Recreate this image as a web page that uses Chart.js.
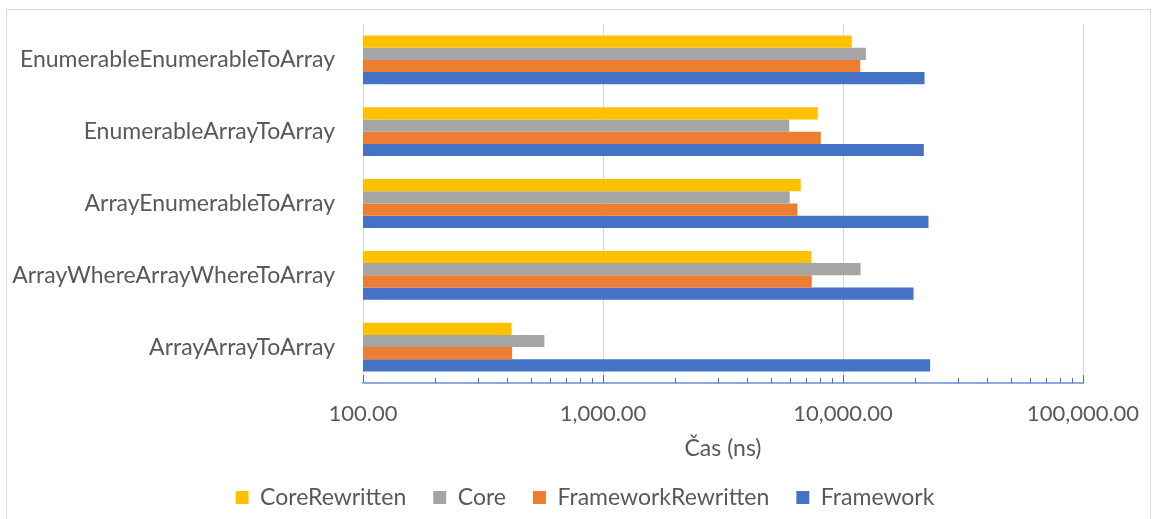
<!DOCTYPE html>
<html>
<head>
<meta charset="utf-8">
<script src="https://cdn.jsdelivr.net/npm/chart.js@4.4.1/dist/chart.umd.min.js"></script>
<style>
  body { margin: 0; background: #fff; }
</style>
</head>
<body>
<canvas id="chart" width="1154" height="519"></canvas>
<script>
const categories = [
  "EnumerableEnumerableToArray",
  "EnumerableArrayToArray",
  "ArrayEnumerableToArray",
  "ArrayWhereArrayWhereToArray",
  "ArrayArrayToArray"
];
const coreRewritten = [10880, 7850, 6670, 7390, 416];
const core = [12450, 5970, 6000, 11830, 570];
const frameworkRewritten = [11800, 8080, 6460, 7410, 418];
const framework = [21860, 21710, 22710, 19670, 23070];

const majorTicks = [100, 1000, 10000, 100000];
const minorSteps = [2, 3, 4, 5, 6, 7, 8, 9];
const axisTitle = "Čas (ns)";

const FONT = "Lato, 'Noto Sans', sans-serif";
const TEXT = "#595959";

// all tick values: majors plus 2..9 in each decade
const allTicks = [];
majorTicks.forEach((m, i) => {
  allTicks.push(m);
  if (i < majorTicks.length - 1) minorSteps.forEach(s => allTicks.push(m * s));
});

const frameBorder = {
  id: "frameBorder",
  beforeDraw(chart) {
    const { ctx } = chart;
    ctx.save();
    ctx.strokeStyle = "#d9d9d9";
    ctx.lineWidth = 1;
    ctx.strokeRect(6.5, 9.5, 1144, 600);
    ctx.restore();
  }
};

// legend sits a bit right of the canvas centre in the original
const legendShift = {
  id: "legendShift",
  afterLayout(chart) {
    chart.legend.left += 8;
    chart.legend.right += 8;
  }
};

// tick marks pointing up from the axis line, like the original
const tickMarks = {
  id: "tickMarks",
  afterDraw(chart) {
    const { ctx, chartArea } = chart;
    const x = chart.scales.x;
    ctx.save();
    ctx.strokeStyle = "#4472c4";
    ctx.lineWidth = 1;
    allTicks.forEach(v => {
      const px = Math.round(x.getPixelForValue(v)) + 0.5;
      const len = majorTicks.includes(v) ? 8 : 5;
      ctx.beginPath();
      ctx.moveTo(px, chartArea.bottom);
      ctx.lineTo(px, chartArea.bottom - len);
      ctx.stroke();
    });
    ctx.restore();
  }
};

new Chart(document.getElementById("chart"), {
  type: "bar",
  data: {
    labels: categories,
    datasets: [
      { label: "CoreRewritten", data: coreRewritten, backgroundColor: "#ffc000" },
      { label: "Core", data: core, backgroundColor: "#a5a5a5" },
      { label: "FrameworkRewritten", data: frameworkRewritten, backgroundColor: "#ed7d31" },
      { label: "Framework", data: framework, backgroundColor: "#4472c4" }
    ]
  },
  options: {
    indexAxis: "y",
    responsive: false,
    animation: false,
    events: [],
    layout: { padding: { top: 24, right: 0, left: 0, bottom: 0 } },
    datasets: {
      bar: { barPercentage: 1, categoryPercentage: 0.68, borderWidth: 0 }
    },
    scales: {
      x: {
        type: "logarithmic",
        min: 100,
        max: 100000,
        afterBuildTicks(scale) {
          scale.ticks = allTicks.map(v => ({ value: v, major: majorTicks.includes(v) }));
        },
        afterFit(scale) {
          scale.height = 76;
          scale.paddingRight = 71;
        },
        ticks: {
          autoSkip: false,
          maxRotation: 0,
          padding: 18,
          color: TEXT,
          font: { family: FONT, size: 22 },
          callback(value) {
            if (!majorTicks.includes(value)) return "";
            return value.toLocaleString("en-US", { minimumFractionDigits: 2, maximumFractionDigits: 2 });
          }
        },
        grid: {
          drawTicks: false,
          color: c => (c.tick && majorTicks.includes(c.tick.value) ? "#d9d9d9" : "rgba(0,0,0,0)")
        },
        border: { color: "#8faadc", width: 2 },
        title: {
          display: true,
          text: axisTitle,
          color: TEXT,
          font: { family: FONT, size: 23 },
          padding: { top: 0, bottom: -3 }
        }
      },
      y: {
        afterFit(scale) {
          scale.width = 363;
          scale.paddingTop = 0;
          scale.paddingBottom = 0;
        },
        ticks: {
          padding: 28,
          color: TEXT,
          font: { family: FONT, size: 23 }
        },
        grid: { display: false, drawTicks: false },
        border: { color: "#d9d9d9", width: 1 }
      }
    },
    plugins: {
      legend: {
        position: "bottom",
        labels: {
          boxWidth: 13,
          boxHeight: 13,
          padding: 27,
          color: TEXT,
          font: { family: FONT, size: 23 }
        }
      },
      tooltip: { enabled: false }
    }
  },
  plugins: [frameBorder, legendShift, tickMarks]
});
</script>
</body>
</html>
